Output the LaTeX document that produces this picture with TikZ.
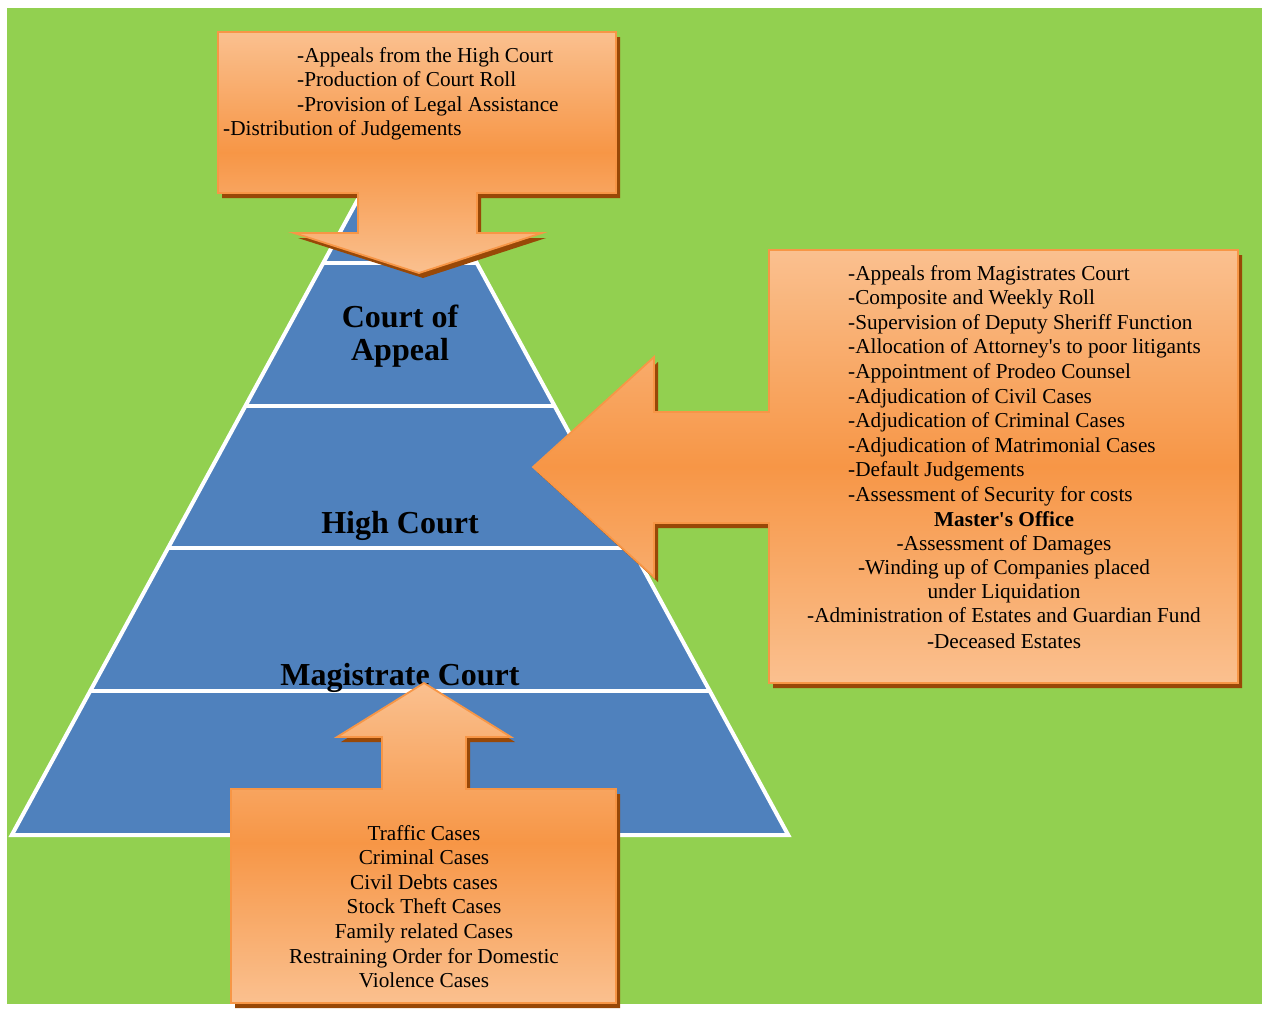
\documentclass[tikz,border=0pt]{standalone}
\usepackage{fontspec}
\setmainfont{Liberation Serif}
\definecolor{fieldgreen}{HTML}{92D050}
\definecolor{tierblue}{HTML}{4F81BD}
\definecolor{calloutlight}{HTML}{FAC08F}
\definecolor{calloutdark}{HTML}{F79646}
\definecolor{calloutline}{HTML}{F79646}
\definecolor{calloutshadow}{HTML}{984807}
% outlines of the three callout shapes (units are points, y grows downwards)
\newcommand\appealcallout{(218,32) -- (616,32) -- (616,193) -- (477,193) -- (477,233) -- (542,233) -- (419,273) -- (294,233) -- (358,233) -- (358,193) -- (218,193) -- cycle}
\newcommand\highcallout{(769,250) -- (1238,250) -- (1238,683) -- (769,683) -- (769,523) -- (654,523) -- (654,577) -- (533,467) -- (654,357) -- (654,412) -- (769,412) -- cycle}
\newcommand\magcallout{(231,789) -- (382,789) -- (382,737) -- (337,737) -- (424,683) -- (511,737) -- (466,737) -- (466,789) -- (616,789) -- (616,1003) -- (231,1003) -- cycle}
\begin{document}
\begin{tikzpicture}[x=1pt,y=-1pt,
  callout/.style={top color=calloutlight, bottom color=calloutlight, middle color=calloutdark,
    draw=calloutline, line width=1.8pt, line join=miter},
  calloutshade/.style={fill=calloutshadow, shift={(4,5)}},
  tierline/.style={draw=white, line width=4pt, line join=miter},
  itemtext/.style={font=\fontsize{21.25}{24.6}\selectfont, inner sep=0pt, text=black},
  tiertitle/.style={font=\fontsize{32}{33}\selectfont\bfseries, inner sep=0pt, text=black}]

\useasboundingbox (0,0) rectangle (1264,1010);
\fill[white] (0,0) rectangle (1264,1010);
\fill[fieldgreen] (7,8) rectangle (1262,1004);

% pyramid of courts
\coordinate (apex) at (400,122);
\coordinate (l1) at (323.2,263); \coordinate (r1) at (476.8,263);
\coordinate (l2) at (245.4,406); \coordinate (r2) at (554.6,406);
\coordinate (l3) at (168.0,548); \coordinate (r3) at (632.0,548);
\coordinate (l4) at (90.2,691);  \coordinate (r4) at (709.8,691);
\coordinate (l5) at (11.8,835);  \coordinate (r5) at (788.2,835);
\fill[tierblue] (apex) -- (l5) -- (r5) -- cycle;
\draw[tierline] (apex) -- (l5) -- (r5) -- cycle;
\draw[tierline] (l1) -- (r1);
\draw[tierline] (l2) -- (r2);
\draw[tierline] (l3) -- (r3);
\draw[tierline] (l4) -- (r4);

\node[tiertitle, anchor=base] (appeal1) at (400,327) {Court of};
\node[tiertitle, anchor=base] (appeal2) at (400,360) {Appeal};
\node[tiertitle, anchor=base] (high) at (400,533) {High Court};
\node[tiertitle, anchor=base] (magistrate) at (400,685) {Magistrate Court};

% callout shadows
\fill[calloutshade] \appealcallout;
\fill[calloutshade] \highcallout;
\fill[calloutshade] \magcallout;

% callouts
\shadedraw[callout] \appealcallout;
\shadedraw[callout] \highcallout;
\shadedraw[callout] \magcallout;

% Court of Appeal duties
\node[itemtext, anchor=base west] (ca1) at (297,62) {-Appeals from the High Court};
\node[itemtext, anchor=base west] (ca2) at (297,86.6) {-Production of Court Roll};
\node[itemtext, anchor=base west] (ca3) at (297,111.2) {-Provision of Legal Assistance};
\node[itemtext, anchor=base west] (ca4) at (223,135.8) {-Distribution of Judgements};

% High Court duties
\foreach \duty [count=\i from 0] in {
  {-Appeals from Magistrates Court},
  {-Composite and Weekly Roll},
  {-Supervision of Deputy Sheriff Function},
  {-Allocation of Attorney\textquotesingle s to poor litigants},
  {-Appointment of Prodeo Counsel},
  {-Adjudication of Civil Cases},
  {-Adjudication of Criminal Cases},
  {-Adjudication of Matrimonial Cases},
  {-Default Judgements},
  {-Assessment of Security for costs}}
  \node[itemtext, anchor=base west] (hc\i) at (848,{280+24.6*\i}) {\duty};
\node[itemtext, anchor=base, font=\fontsize{21.25}{24.6}\selectfont\bfseries] (mo) at (1004,526) {Master\textquotesingle s Office};
\node[itemtext, anchor=base] (mo1) at (1004,550) {-Assessment of Damages};
\node[itemtext, anchor=base] (mo2) at (1004,574) {-Winding up of Companies placed};
\node[itemtext, anchor=base] (mo3) at (1004,598.5) {under Liquidation};
\node[itemtext, anchor=base] (mo4) at (1004,622.5) {-Administration of Estates and Guardian Fund};
\node[itemtext, anchor=base] (mo5) at (1004,648) {-Deceased Estates};

% Magistrate Court cases
\foreach \case [count=\i from 0] in {
  {Traffic Cases},
  {Criminal Cases},
  {Civil Debts cases},
  {Stock Theft Cases},
  {Family related Cases},
  {Restraining Order for Domestic},
  {Violence Cases}}
  \node[itemtext, anchor=base] (mc\i) at (424,{840+24.6*\i}) {\case};

\end{tikzpicture}
\end{document}
